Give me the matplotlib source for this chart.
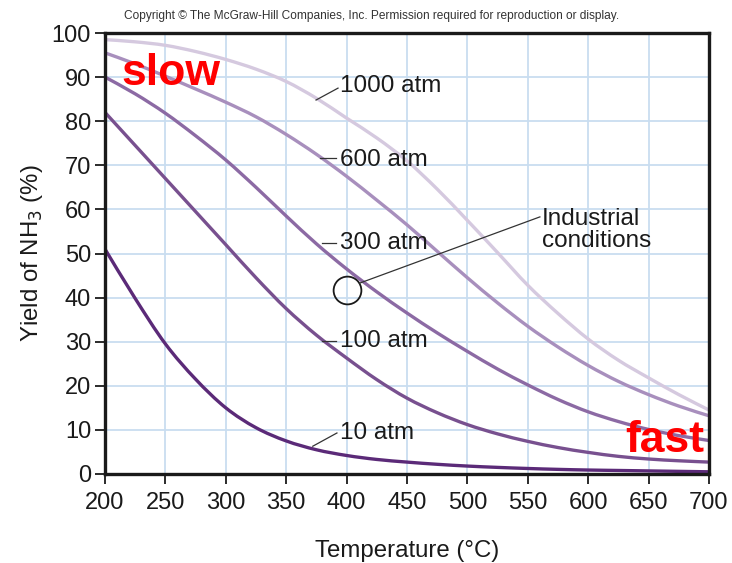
import matplotlib
matplotlib.use("Agg")
import matplotlib.pyplot as plt
from matplotlib.path import Path
from matplotlib.patches import PathPatch

plt.rcParams['font.family'] = ['Liberation Sans', 'DejaVu Sans']

temps = [200, 225, 250, 275, 300, 325, 350, 375, 400, 425, 450, 475,
         500, 525, 550, 575, 600, 625, 650, 675, 700]

yield_10 = [51, 39.8, 29.5, 21.5, 15, 10.5, 7.5, 5.5, 4.2, 3.3, 2.7, 2.2,
            1.8, 1.5, 1.25, 1.05, 0.9, 0.8, 0.7, 0.6, 0.5]
yield_100 = [82, 74.5, 67, 59.5, 52, 44.5, 37.5, 31.5, 26.3, 21.4, 17.2, 13.9,
             11.2, 9.1, 7.4, 6.0, 4.9, 4.0, 3.4, 3.0, 2.7]
yield_300 = [90, 86.2, 81.8, 76.7, 71.2, 65, 58.5, 52.2, 46.5, 41.3, 36.5, 32.0,
             27.8, 23.8, 20.2, 16.9, 14.1, 11.9, 10.1, 8.7, 7.6]
yield_600 = [95.5, 93, 90.2, 87.3, 84.3, 81, 77, 72.5, 67.5, 62.1, 56.5, 50.5,
             44.5, 38.8, 33.5, 28.8, 24.6, 21.0, 18.0, 15.4, 13.2]
yield_1000 = [98.5, 98, 97.2, 95.8, 94, 91.8, 89, 85.2, 80.7, 76.2, 71, 64.6,
              57.5, 50.2, 42.8, 36.4, 30.6, 25.8, 21.8, 18, 14.5]

series = [yield_1000, yield_600, yield_300, yield_100, yield_10]
series_labels = ["1000 atm", "600 atm", "300 atm", "100 atm", "10 atm"]
colors = ["#d5c9df", "#a88fbd", "#8c6aa4", "#78508f", "#5b2a78"]

x_ticks = [200, 250, 300, 350, 400, 450, 500, 550, 600, 650, 700]
y_ticks = [0, 10, 20, 30, 40, 50, 60, 70, 80, 90, 100]

industrial_T = 400
industrial_yield = 41.7


def smooth_path(xs, ys):
    """Catmull-Rom curve through the given points, as cubic Bezier segments."""
    n = len(xs)
    verts = [(xs[0], ys[0])]
    codes = [Path.MOVETO]
    for i in range(n - 1):
        i0 = max(i - 1, 0)
        i3 = min(i + 2, n - 1)
        c1 = (xs[i] + (xs[i + 1] - xs[i0]) / 6.0, ys[i] + (ys[i + 1] - ys[i0]) / 6.0)
        c2 = (xs[i + 1] - (xs[i3] - xs[i]) / 6.0, ys[i + 1] - (ys[i3] - ys[i]) / 6.0)
        verts += [c1, c2, (xs[i + 1], ys[i + 1])]
        codes += [Path.CURVE4, Path.CURVE4, Path.CURVE4]
    return Path(verts, codes)


fig = plt.figure(figsize=(7.32, 5.63), dpi=100)
ax = fig.add_axes([105/732, 1-474/563, (709-105)/732, (474-33)/563])

for vals, col in zip(series, colors):
    patch = PathPatch(smooth_path(temps, vals), facecolor='none', edgecolor=col,
                      lw=2.4, capstyle='butt', zorder=3)
    ax.add_patch(patch)

ax.set_xlim(200, 700)
ax.set_ylim(0, 100)
ax.set_xticks(x_ticks)
ax.set_yticks(y_ticks)
ax.grid(True, color="#c9ddf0", lw=1.3, zorder=0)
ax.set_axisbelow(True)
for s in ax.spines.values():
    s.set_linewidth(2.4)
    s.set_color("#1a1a1a")
    s.set_zorder(5)
ax.tick_params(axis='both', direction='out', length=7, width=1.3,
               labelsize=17, color="#1a1a1a", labelcolor="#1a1a1a")
ax.tick_params(axis='y', pad=3)
ax.tick_params(axis='x', pad=6)

ax.set_xlabel("Temperature (\u00b0C)", fontsize=17.3, labelpad=19, color="#1a1a1a")
ax.set_ylabel("Yield of NH$_3$ (%)", fontsize=17.3, labelpad=5, color="#1a1a1a")

# curve labels with leader lines
lab_fs = 17.5
ax.text(394.5, 88, series_labels[0], fontsize=lab_fs, va='center', ha='left', color="#1a1a1a")
ax.plot([374.7, 392.9], [84.8, 87.5], color="#333333", lw=0.9, zorder=4)
ax.text(394.5, 71.2, series_labels[1], fontsize=lab_fs, va='center', ha='left', color="#1a1a1a")
ax.plot([378, 391.2], [71.7, 71.7], color="#333333", lw=0.9, zorder=4)
ax.text(394.5, 52.4, series_labels[2], fontsize=lab_fs, va='center', ha='left', color="#1a1a1a")
ax.plot([379.6, 391.2], [52.4, 52.4], color="#333333", lw=0.9, zorder=4)
ax.text(394.5, 30.2, series_labels[3], fontsize=lab_fs, va='center', ha='left', color="#1a1a1a")
ax.plot([380, 391.2], [30.2, 30.2], color="#333333", lw=0.9, zorder=4)
ax.text(394.5, 9.3, series_labels[4], fontsize=lab_fs, va='center', ha='left', color="#1a1a1a")
ax.plot([372, 392], [6.3, 9.3], color="#333333", lw=0.9, zorder=4)

# industrial conditions
ax.plot([industrial_T], [industrial_yield], marker='o', ms=20, mfc='none',
        mec="#1a1a1a", mew=1.3, zorder=4)
ax.plot([411, 560], [43.3, 58.3], color="#333333", lw=0.9, zorder=4)
ax.text(561.8, 55.4, "Industrial\nconditions", fontsize=lab_fs, va='center',
        ha='left', color="#1a1a1a", linespacing=1.0)

# slow / fast
ax.text(214, 88.2, "slow", fontsize=32, fontweight='bold', color='#ff0000',
        va='baseline', ha='left', zorder=6)
ax.text(696, 5.0, "fast", fontsize=32, fontweight='bold', color='#ff0000',
        va='baseline', ha='right', zorder=6)

fig.text(372/732, 1-16/563,
         "Copyright \u00a9 The McGraw-Hill Companies, Inc. Permission required for reproduction or display.",
         fontsize=8.6, ha='center', va='center', color="#333333")

fig.savefig("out.png", dpi=100)
